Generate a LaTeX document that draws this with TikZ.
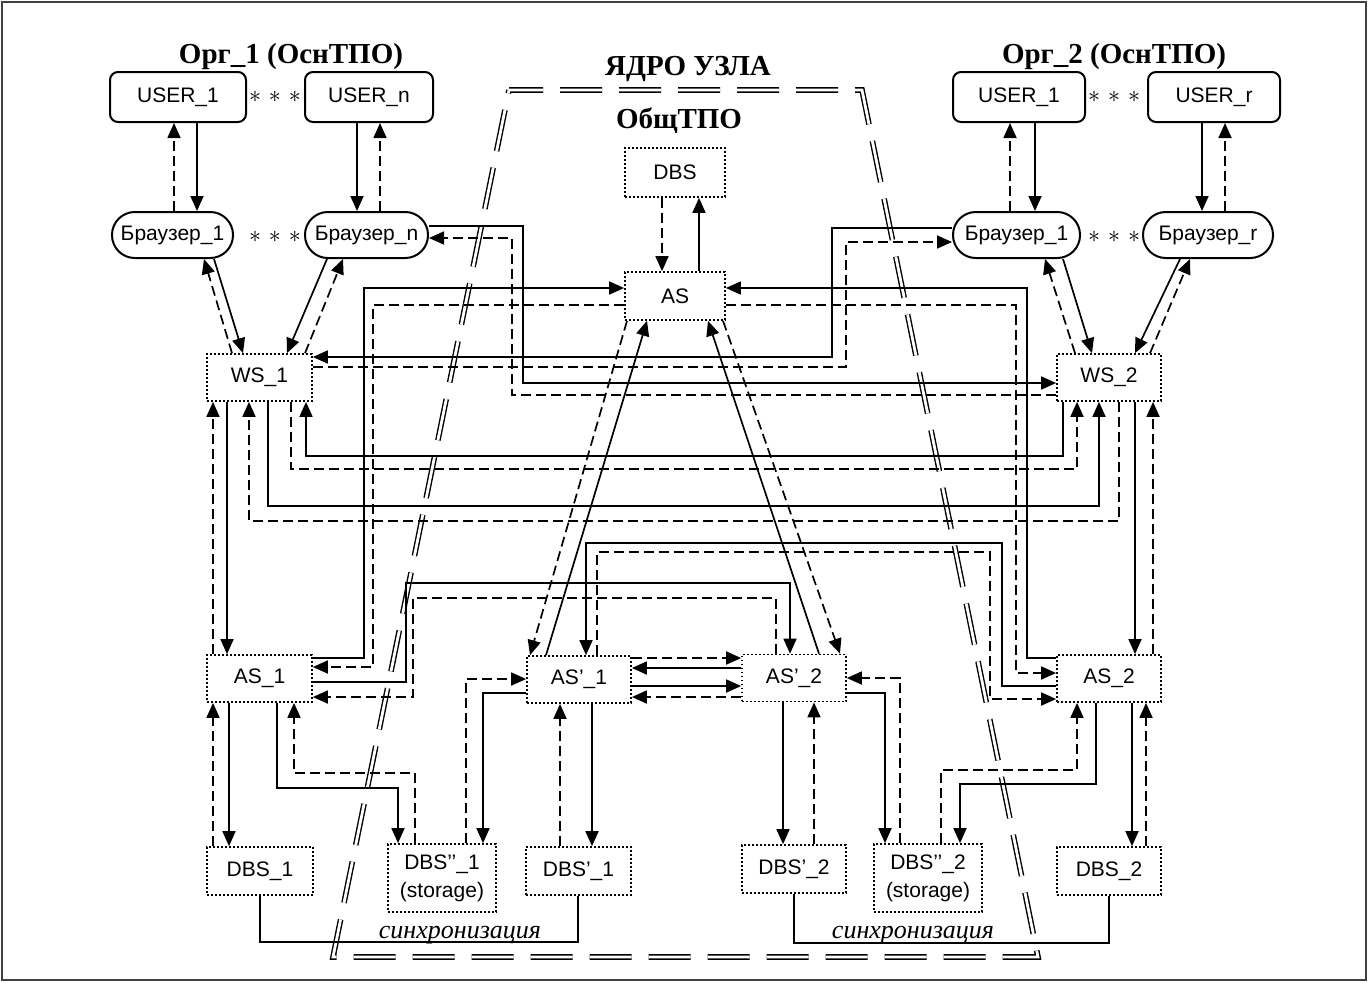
\documentclass[tikz,border=0pt]{standalone}
\usepackage{fontspec}
\setmainfont{Liberation Serif}
\setsansfont{Liberation Sans}
\usetikzlibrary{arrows.meta}
\begin{document}
\begin{tikzpicture}[x=0.5pt,y=-0.5pt,
  lbl/.style={font=\sffamily\fontsize{10.5}{14}\selectfont, align=center, inner sep=0pt},
  box/.style={lbl, draw, line width=0.85pt, dash pattern=on 0.9pt off 1.1pt},
  ubox/.style={lbl, draw, line width=1pt, rounded corners=4pt},
  pill/.style={lbl, draw, line width=1pt, rounded corners=11.4pt},
  sz/.style 2 args={minimum width=#1, minimum height=#2},
  ln/.style={line width=0.85pt},
  sol/.style={ln, -{Triangle[length=7.5pt,width=6.5pt]}},
  dsh/.style={sol, dash pattern=on 5pt off 2.5pt},
  title/.style={font=\bfseries\fontsize{14.5}{17}\selectfont, inner sep=0pt, anchor=base},
  sync/.style={font=\itshape\fontsize{13}{15}\selectfont, inner sep=0pt, anchor=base},
  stars/.style={font=\fontsize{13}{14}\selectfont, inner sep=0pt},
  core/.style={line width=0.7pt, double, double distance=1.4pt, dash pattern=on 21pt off 8.5pt, dash phase=4pt}
]
\useasboundingbox (0,0) rectangle (1368,982);
\draw[line width=0.6pt, black!75] (2,2) rectangle (1366,980);

% core trapezoid
\draw[core] (509,90) -- (862,90) -- (1038,957) -- (333,957) -- cycle;

% titles
\node[title] (t1) at (291,63) {Орг\_1 (ОснТПО)};
\node[title] (t2) at (1114,63) {Орг\_2 (ОснТПО)};
\node[title] (tcore) at (688,75) {ЯДРО УЗЛА};
\node[title] (tcom) at (679,128) {ОбщТПО};

% users and browsers
\node[ubox, sz={68pt}{25pt}] (u1l) at (178,97) {USER\_1};
\node[ubox, sz={64pt}{25pt}] (unl) at (369,97) {USER\_n};
\node[ubox, sz={66pt}{25pt}] (u1r) at (1019,97) {USER\_1};
\node[ubox, sz={66pt}{25pt}] (urr) at (1214,97) {USER\_r};
\node[pill, sz={60.5pt}{23pt}] (b1l) at (172.5,235) {Браузер\_1};
\node[pill, sz={61.5pt}{23pt}] (bnl) at (366.5,235) {Браузер\_n};
\node[pill, sz={63.5pt}{23pt}] (b1r) at (1016.5,235) {Браузер\_1};
\node[pill, sz={65pt}{23pt}] (brr) at (1208,235) {Браузер\_r};
\node[stars] (s1) at (275,97) {$\ast$\hspace{4pt}$\ast$\hspace{4pt}$\ast$};
\node[stars] (s2) at (275,237) {$\ast$\hspace{4pt}$\ast$\hspace{4pt}$\ast$};
\node[stars] (s3) at (1114,97) {$\ast$\hspace{4pt}$\ast$\hspace{4pt}$\ast$};
\node[stars] (s4) at (1114,237) {$\ast$\hspace{4pt}$\ast$\hspace{4pt}$\ast$};

% servers
\node[box, sz={50pt}{24.5pt}] (dbs) at (675,172.5) {DBS};
\node[box, sz={50pt}{24pt}] (as) at (675,296) {AS};
\node[box, sz={52.5pt}{23.5pt}] (ws1) at (259.5,377.5) {WS\_1};
\node[box, sz={52pt}{23.5pt}] (ws2) at (1109,377.5) {WS\_2};
\node[box, sz={52.5pt}{23.5pt}] (as1) at (259.5,678.5) {AS\_1};
\node[box, sz={52pt}{23.5pt}] (as2) at (1109,678.5) {AS\_2};
\node[box, sz={52pt}{23.5pt}] (asp1) at (579,679.5) {AS’\_1};
\node[box, sz={52pt}{23.5pt}] (asp2) at (794,678) {AS’\_2};
\node[box, sz={53pt}{24pt}] (dbs1) at (260,871) {DBS\_1};
\node[box, sz={54pt}{34pt}] (dbspp1) at (442,878) {DBS’’\_1\\(storage)};
\node[box, sz={52.5pt}{24pt}] (dbsp1) at (578.5,871) {DBS’\_1};
\node[box, sz={52pt}{24pt}] (dbsp2) at (794,869) {DBS’\_2};
\node[box, sz={54pt}{34pt}] (dbspp2) at (928,878) {DBS’’\_2\\(storage)};
\node[box, sz={52pt}{24pt}] (dbs2) at (1109,871) {DBS\_2};

% user <-> browser
\draw[sol] (u1l.south -| 197,0) -- (b1l.north -| 197,0);
\draw[dsh] (b1l.north -| 174,0) -- (u1l.south -| 174,0);
\draw[sol] (unl.south -| 357,0) -- (bnl.north -| 357,0);
\draw[dsh] (bnl.north -| 380,0) -- (unl.south -| 380,0);
\draw[dsh] (b1r.north -| 1010,0) -- (u1r.south -| 1010,0);
\draw[sol] (u1r.south -| 1035,0) -- (b1r.north -| 1035,0);
\draw[sol] (urr.south -| 1202,0) -- (brr.north -| 1202,0);
\draw[dsh] (brr.north -| 1225,0) -- (urr.south -| 1225,0);

% browser <-> WS
\draw[sol] (b1l.south -| 214,0) -- (ws1.north -| 243,0);
\draw[dsh] (ws1.north -| 232,0) -- (b1l.south -| 204,0);
\draw[sol] (bnl.south -| 327,0) -- (ws1.north -| 287,0);
\draw[dsh] (ws1.north -| 305,0) -- (bnl.south -| 343,0);
\draw[sol] (b1r.south -| 1063,0) -- (ws2.north -| 1092,0);
\draw[dsh] (ws2.north -| 1075,0) -- (b1r.south -| 1045,0);
\draw[sol] (brr.south -| 1180,0) -- (ws2.north -| 1135,0);
\draw[dsh] (ws2.north -| 1150,0) -- (brr.south -| 1190,0);

\draw[sol] (bnl.east |- 0,226) -| (523,383) -- (ws2.west |- 0,383);
\draw[dsh] (ws2.west |- 0,395) -| (512,238) -- (bnl.east |- 0,238);
\draw[sol] (b1r.west |- 0,228) -| (832,357) -- (ws1.east |- 0,357);
\draw[dsh] (ws1.east |- 0,367) -| (846,242) -- (b1r.west |- 0,242);

% AS <-> DBS
\draw[dsh] (dbs.south -| 662,0) -- (as.north -| 662,0);
\draw[sol] (as.north -| 699,0) -- (dbs.south -| 699,0);

% AS <-> AS_1, AS_2
\draw[sol] (as1.east |- 0,658) -| (364,288) -- (as.west |- 0,288);
\draw[dsh] (as.west |- 0,305) -| (373,667) -- (as1.east |- 0,667);
\draw[sol] (as2.west |- 0,658) -| (1027,288) -- (as.east |- 0,288);
\draw[dsh] (as.east |- 0,305) -| (1016,673) -- (as2.west |- 0,673);

% WS <-> AS
\draw[sol] (ws1.south -| 227,0) -- (as1.north -| 227,0);
\draw[dsh] (as1.north -| 213,0) -- (ws1.south -| 213,0);
\draw[sol] (ws2.south -| 1135,0) -- (as2.north -| 1135,0);
\draw[dsh] (as2.north -| 1153,0) -- (ws2.south -| 1153,0);

% WS_1 <-> WS_2
\draw[sol] (ws2.south -| 1063,0) |- (306,456) -- (ws1.south -| 306,0);
\draw[dsh] (ws1.south -| 291,0) |- (1077,469) -- (ws2.south -| 1077,0);
\draw[sol] (ws1.south -| 268,0) |- (1099,506) -- (ws2.south -| 1099,0);
\draw[dsh] (ws2.south -| 1119,0) |- (249,521) -- (ws1.south -| 249,0);

% AS_1 <-> AS'_2, AS_2 <-> AS'_1
\draw[sol] (as1.east |- 0,682) -| (406,583) -| (asp2.north -| 790,0);
\draw[dsh] (asp2.north -| 776,0) |- (413,598) |- (as1.east |- 0,697);
\draw[sol] (as2.west |- 0,686) -| (1002,543) -| (asp1.north -| 586,0);
\draw[dsh] (asp1.north -| 597,0) |- (990,552) |- (as2.west |- 0,699);

% AS <-> AS'_1, AS'_2
\draw[sol] (asp1.north -| 546,0) -- (as.south -| 647,0);
\draw[dsh] (as.south -| 627,0) -- (asp1.north -| 530,0);
\draw[sol] (asp2.north -| 819,0) -- (as.south -| 708,0);
\draw[dsh] (as.south -| 723,0) -- (asp2.north -| 840,0);

% AS'_1 <-> AS'_2
\draw[dsh] (asp1.east |- 0,658) -- (asp2.west |- 0,658);
\draw[sol] (asp2.west |- 0,668) -- (asp1.east |- 0,668);
\draw[sol] (asp1.east |- 0,686) -- (asp2.west |- 0,686);
\draw[dsh] (asp2.west |- 0,697) -- (asp1.east |- 0,697);

% AS_1 <-> DBS
\draw[sol] (as1.south -| 229,0) -- (dbs1.north -| 229,0);
\draw[dsh] (dbs1.north -| 213,0) -- (as1.south -| 213,0);
\draw[sol] (as1.south -| 277,0) |- (398,788) -- (dbspp1.north -| 398,0);
\draw[dsh] (dbspp1.north -| 415,0) |- (294,773) -- (as1.south -| 294,0);

% AS'_1 <-> DBS
\draw[sol] (asp1.west |- 0,693) -| (dbspp1.north -| 483,0);
\draw[dsh] (dbspp1.north -| 466,0) |- (asp1.west |- 0,679);
\draw[dsh] (dbsp1.north -| 560,0) -- (asp1.south -| 560,0);
\draw[sol] (asp1.south -| 592,0) -- (dbsp1.north -| 592,0);

% AS'_2 <-> DBS
\draw[sol] (asp2.south -| 783,0) -- (dbsp2.north -| 783,0);
\draw[dsh] (dbsp2.north -| 814,0) -- (asp2.south -| 814,0);
\draw[sol] (asp2.east |- 0,693) -| (dbspp2.north -| 885,0);
\draw[dsh] (dbspp2.north -| 900,0) |- (asp2.east |- 0,678);

% AS_2 <-> DBS
\draw[sol] (as2.south -| 1096,0) |- (960,784) -- (dbspp2.north -| 960,0);
\draw[dsh] (dbspp2.north -| 941,0) |- (1077,770) -- (as2.south -| 1077,0);
\draw[sol] (as2.south -| 1132,0) -- (dbs2.north -| 1132,0);
\draw[dsh] (dbs2.north -| 1146,0) -- (as2.south -| 1146,0);

% synchronisation
\draw[ln] (dbs1.south) |- (578,942) -- (dbsp1.south -| 578,0);
\draw[ln] (dbsp2.south -| 794,0) |- (1109,943) -- (dbs2.south);
\node[sync] (sy1) at (460,938) {синхронизация};
\node[sync] (sy2) at (913,938) {синхронизация};
\end{tikzpicture}
\end{document}
